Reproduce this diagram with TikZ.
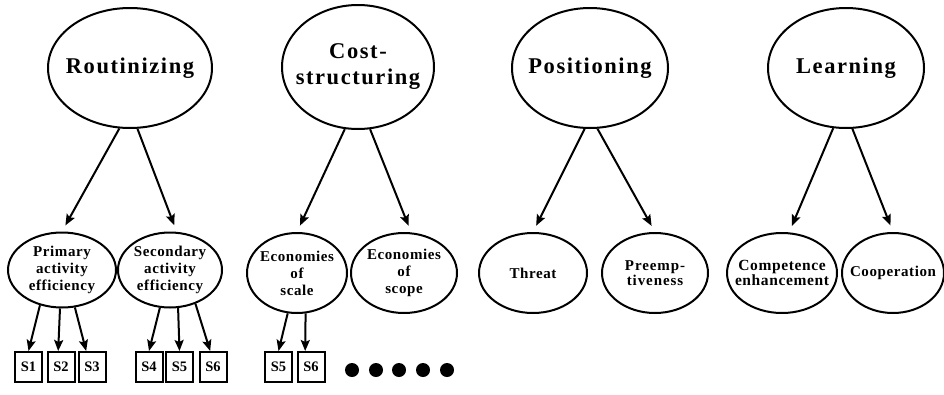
\documentclass[tikz,border=0pt]{standalone}
\usepackage{fontspec}
\setmainfont{Liberation Serif}
\usepackage{tikz}
\usetikzlibrary{shapes.geometric,arrows.meta}

\begin{document}
\begin{tikzpicture}[x=1pt, y=-1pt,
goal/.style={ellipse, draw, line width=2pt, inner xsep=-12pt, inner ysep=0pt,
minimum width=156pt, minimum height=120pt, align=center,
font=\fontsize{22.5}{26}\selectfont\bfseries\addfontfeature{LetterSpace=7}},
means/.style={ellipse, draw, line width=2pt, inner xsep=-14pt, inner ysep=0pt,
minimum width=106pt, minimum height=78pt, align=center,
font=\fontsize{15}{17}\selectfont\bfseries\addfontfeature{LetterSpace=4}},
study/.style={draw, line width=2pt, inner sep=0pt, minimum width=27pt, minimum height=30pt,
font=\fontsize{14.5}{16}\selectfont\bfseries},
arrow/.style={-{Stealth[length=11pt, width=9pt, inset=2pt]}, line width=2pt},
garrow/.style={arrow, shorten >=7pt}
]
\useasboundingbox (0,0) rectangle (944,394);

\node[goal, minimum width=164pt] (rout) at (130,68) {Routinizing};
\node[goal, minimum width=152pt, minimum height=124pt] (cost) at (358,67) {Cost-\\structuring};
\node[goal] (pos) at (590,68) {Positioning};
\node[goal] (learn) at (846,68) {Learning};

\node[means, minimum width=108pt, minimum height=75pt] (prim) at (62,270) {Primary\\activity\\efficiency};
\node[means, minimum width=104pt, minimum height=75pt] (sec) at (170,270) {Secondary\\activity\\efficiency};
\node[means, minimum width=100pt, minimum height=80pt] (scale) at (297,273) {Economies\\of\\scale};
\node[means, minimum height=80pt] (scope) at (404,273) {Economies\\of\\scope};
\node[means, minimum width=108pt, minimum height=80pt] (threat) at (533,273) {Threat};
\node[means, minimum height=80pt, font=\fontsize{15}{13}\selectfont\bfseries\addfontfeature{LetterSpace=6}] (pre) at (655,273) {Preemp-\\tiveness};
\node[means, minimum width=110pt, minimum height=80pt, font=\fontsize{15.5}{15}\selectfont\bfseries\addfontfeature{LetterSpace=4}] (comp) at (782,273) {Competence\\enhancement};
\node[means, minimum width=102pt, minimum height=80pt] (coop) at (893,273) {Cooperation};

\node[study] (s1) at (28.5,367) {S1};
\node[study] (s2) at (61,367) {S2};
\node[study] (s3) at (92,367) {S3};
\node[study] (s4) at (149,367) {S4};
\node[study] (s5) at (179.5,367) {S5};
\node[study] (s6) at (213,367) {S6};
\node[study] (s5b) at (278.5,367) {S5};
\node[study] (s6b) at (311,367) {S6};

\draw[garrow] (rout.-100) -- (prim.north);
\draw[garrow] (rout.-83) -- (sec.80);
\draw[garrow] (cost.-102) -- (scale.north);
\draw[garrow] (cost.-79) -- (scope.80);
\draw[garrow] (pos.-95) -- (threat.north);
\draw[garrow] (pos.-83) -- (pre.north);
\draw[garrow] (learn.-102) -- (comp.80);
\draw[garrow] (learn.-84) -- (coop.north);

\draw[arrow] (prim.-122) -- (s1.north);
\draw[arrow] (prim.-93) -- (s2.100);
\draw[arrow] (prim.-71) -- (s3.110);
\draw[arrow] (sec.-105) -- (s4.north);
\draw[arrow] (sec.-78) -- (s5.north);
\draw[arrow] (sec.-53) -- (s6.100);
\draw[arrow] (scale.-103) -- (s5b.north);
\draw[arrow] (scale.-78) -- (s6b.110);

\foreach \x in {352,376,399,423,447} {
\fill (\x,370) circle (7pt);
}

\end{tikzpicture}
\end{document}
